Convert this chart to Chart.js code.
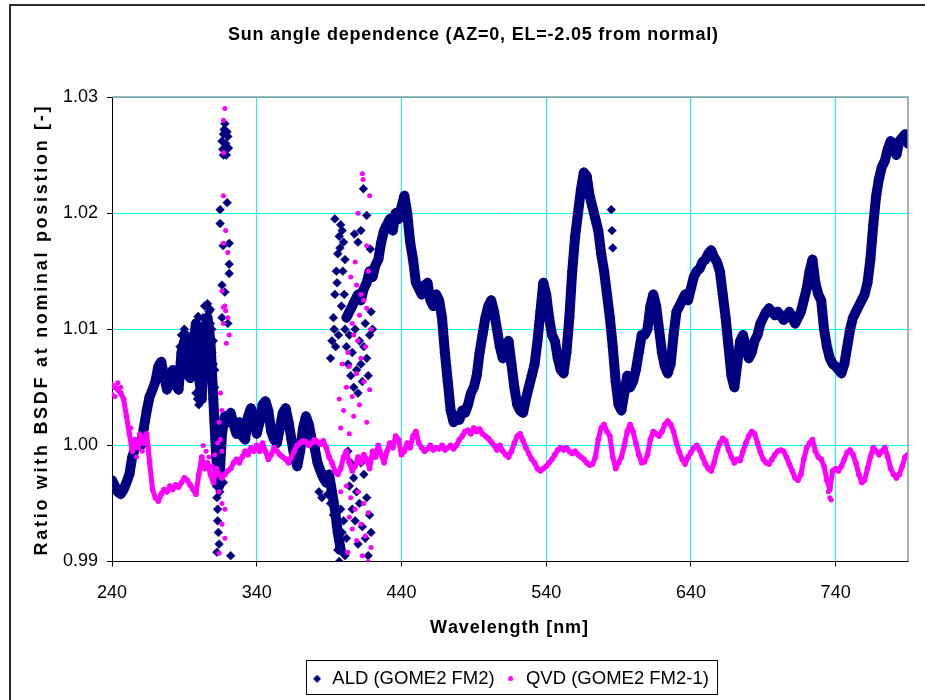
<!DOCTYPE html>
<html>
<head>
<meta charset="utf-8">
<title>Sun angle dependence</title>
<script src="https://cdn.jsdelivr.net/npm/chart.js@4.4.1/dist/chart.umd.min.js"></script>
<style>
  html, body { margin: 0; padding: 0; background: #fff; }
  #wrap { width: 925px; height: 700px; }
</style>
</head>
<body>
<div id="wrap"><canvas id="sunAngleChart" width="925" height="700"></canvas></div>
<script>
// wavelength grid shared by the two main traces [nm]
const wavelengths = [
  240,242,244,246,248,250,252,254,256,258,260,262,264,266,268,270,272,274,276,278,
  280,282,284,286,288,290,292,294,296,298,300,302,304,306,308,310,312,314,316,318,
  320,322,324,326,328,330,332,334,336,338,340,342,344,346,348,350,352,354,356,358,
  360,362,364,366,368,370,372,374,376,378,380,382,384,386,388,390,392,394,396,398,
  400,402,404,406,408,410,412,414,416,418,420,422,424,426,428,430,432,434,436,438,
  440,442,444,446,448,450,452,454,456,458,460,462,464,466,468,470,472,474,476,478,
  480,482,484,486,488,490,492,494,496,498,500,502,504,506,508,510,512,514,516,518,
  520,522,524,526,528,530,532,534,536,538,540,542,544,546,548,550,552,554,556,558,
  560,562,564,566,568,570,572,574,576,578,580,582,584,586,588,590,592,594,596,598,
  600,602,604,606,608,610,612,614,616,618,620,622,624,626,628,630,632,634,636,638,
  640,642,644,646,648,650,652,654,656,658,660,662,664,666,668,670,672,674,676,678,
  680,682,684,686,688,690,692,694,696,698,700,702,704,706,708,710,712,714,716,718,
  720,722,724,726,728,730,732,734,736,738,740,742,744,746,748,750,752,754,756,758,
  760,762,764,766,768,770,772,774,776,778,780,782,784,786,788,790
];

// ALD (GOME2 FM2) ratio on the grid above (null = branch break at 400 nm)
const aldRatio = [
  0.9970,0.9965,0.9960,0.9958,0.9962,0.9968,0.9975,0.9990,0.9998,1.0002,1.0000,1.0015,1.0030,1.0042,1.0048,1.0055,1.0068,1.0072,1.0060,1.0048,
  1.0058,1.0065,1.0052,1.0048,1.0080,1.0090,1.0070,1.0058,1.0085,1.0105,1.0060,1.0040,1.0100,1.0110,1.0090,1.0040,0.9990,0.9965,1.0010,1.0025,
  1.0020,1.0028,1.0018,1.0010,1.0020,1.0008,1.0005,1.0025,1.0032,1.0022,1.0010,1.0020,1.0035,1.0038,1.0030,1.0012,1.0005,1.0002,1.0015,1.0028,
  1.0032,1.0020,1.0005,0.9990,0.9982,0.9995,1.0015,1.0025,1.0018,1.0005,0.9998,0.9985,0.9978,0.9972,0.9968,0.9975,0.9960,0.9945,0.9925,0.9910,
  null,1.0110,1.0115,1.0120,1.0125,1.0130,1.0125,1.0135,1.0140,1.0150,1.0145,1.0155,1.0160,1.0175,1.0185,1.0190,1.0195,1.0185,1.0200,1.0195,
  1.0205,1.0215,1.0200,1.0175,1.0160,1.0140,1.0135,1.0130,1.0138,1.0140,1.0125,1.0120,1.0130,1.0125,1.0110,1.0080,1.0055,1.0030,1.0020,1.0025,
  1.0022,1.0030,1.0028,1.0035,1.0045,1.0050,1.0060,1.0080,1.0095,1.0110,1.0120,1.0125,1.0115,1.0100,1.0085,1.0075,1.0085,1.0090,1.0070,1.0050,
  1.0035,1.0030,1.0028,1.0040,1.0050,1.0060,1.0070,1.0090,1.0115,1.0140,1.0130,1.0110,1.0095,1.0090,1.0075,1.0065,1.0062,1.0080,1.0110,1.0150,
  1.0180,1.0200,1.0220,1.0235,1.0232,1.0215,1.0205,1.0195,1.0185,1.0165,1.0150,1.0130,1.0110,1.0085,1.0055,1.0035,1.0030,1.0045,1.0060,1.0050,
  1.0055,1.0065,1.0080,1.0095,1.0095,1.0100,1.0120,1.0130,1.0120,1.0100,1.0080,1.0068,1.0062,1.0070,1.0095,1.0115,1.0120,1.0125,1.0130,1.0125,
  1.0135,1.0145,1.0150,1.0152,1.0158,1.0160,1.0165,1.0168,1.0162,1.0158,1.0150,1.0130,1.0110,1.0085,1.0060,1.0050,1.0070,1.0090,1.0095,1.0085,
  1.0075,1.0080,1.0090,1.0095,1.0105,1.0110,1.0115,1.0118,1.0115,1.0112,1.0115,1.0112,1.0108,1.0110,1.0115,1.0110,1.0105,1.0110,1.0115,1.0125,
  1.0135,1.0150,1.0160,1.0140,1.0130,1.0125,1.0100,1.0085,1.0075,1.0070,1.0068,1.0065,1.0062,1.0070,1.0085,1.0100,1.0110,1.0115,1.0120,1.0125,
  1.0130,1.0140,1.0160,1.0190,1.0215,1.0230,1.0240,1.0245,1.0255,1.0262,1.0258,1.0250,1.0262,1.0265,1.0268,1.0260
];

// QVD (GOME2 FM2-1) ratio on the grid above
const qvdRatio = [
  1.0052,1.0050,1.0048,1.0045,1.0040,1.0025,1.0010,0.9995,1.0005,0.9998,1.0008,1.0002,1.0010,0.9985,0.9962,0.9955,0.9952,0.9958,0.9962,0.9960,
  0.9965,0.9962,0.9966,0.9964,0.9968,0.9972,0.9970,0.9966,0.9962,0.9958,0.9975,0.9990,0.9980,0.9985,0.9975,0.9968,0.9980,0.9975,0.9972,0.9975,
  0.9978,0.9980,0.9985,0.9988,0.9985,0.9990,0.9995,0.9992,0.9998,0.9995,1.0000,0.9995,1.0002,0.9995,0.9988,0.9992,0.9998,0.9995,0.9992,0.9990,
  0.9988,0.9985,0.9990,0.9995,1.0000,1.0002,1.0004,1.0003,1.0000,1.0002,1.0005,1.0003,1.0001,1.0004,0.9998,0.9990,0.9985,0.9978,0.9975,0.9980,
  0.9990,0.9995,0.9985,0.9978,0.9982,0.9990,0.9985,0.9992,0.9988,0.9980,0.9995,0.9990,1.0000,0.9992,0.9985,0.9995,1.0002,0.9998,1.0008,1.0005,
  0.9992,0.9995,1.0002,0.9998,1.0008,1.0012,1.0002,0.9998,0.9995,0.9997,1.0000,0.9996,0.9998,0.9997,1.0000,0.9996,0.9998,1.0000,0.9997,1.0000,
  1.0005,1.0008,1.0012,1.0013,1.0010,1.0015,1.0012,1.0014,1.0010,1.0008,1.0006,1.0003,1.0000,0.9996,1.0000,0.9995,0.9992,0.9990,0.9995,1.0002,
  1.0008,1.0010,1.0004,0.9998,0.9993,0.9988,0.9985,0.9980,0.9978,0.9980,0.9982,0.9985,0.9988,0.9992,0.9996,0.9998,0.9996,0.9998,0.9995,0.9993,
  0.9995,0.9992,0.9990,0.9988,0.9985,0.9983,0.9984,0.9990,1.0005,1.0015,1.0018,1.0012,1.0008,0.9990,0.9980,0.9985,0.9990,1.0000,1.0012,1.0018,
  1.0012,1.0002,0.9992,0.9985,0.9986,0.9992,1.0005,1.0012,1.0010,1.0008,1.0012,1.0018,1.0021,1.0018,1.0012,1.0002,0.9994,0.9988,0.9984,0.9990,
  0.9994,0.9998,1.0000,0.9996,0.9990,0.9984,0.9980,0.9978,0.9985,0.9995,1.0002,1.0006,1.0004,0.9996,0.9990,0.9985,0.9988,0.9987,0.9995,1.0002,
  1.0008,1.0012,1.0010,1.0002,0.9994,0.9988,0.9985,0.9984,0.9988,0.9992,0.9995,0.9996,0.9995,0.9990,0.9984,0.9978,0.9972,0.9970,0.9975,0.9988,
  0.9998,1.0002,1.0005,0.9995,0.9990,0.9988,0.9982,0.9970,0.9962,0.9978,0.9980,0.9978,0.9982,0.9988,0.9994,0.9996,0.9992,0.9985,0.9975,0.9968,
  0.9970,0.9980,0.9990,0.9998,0.9995,0.9992,0.9995,0.9998,0.9990,0.9980,0.9975,0.9972,0.9975,0.9982,0.9990,0.9992
];

// extra ALD readings where the measurement scatters [nm, ratio]
const aldSpread = [
  [287,1.0060],[287,1.0085],[288,1.0095],[289,1.0070],[290,1.0100],[291,1.0085],[292,1.0095],[293,1.0065],
  [294,1.0075],[295,1.0065],[296,1.0095],[297,1.0060],[298,1.0085],[298,1.0045],[299,1.0100],[299,1.0040],
  [300,1.0110],[300,1.0075],[301,1.0045],[301,1.0065],[302,1.0080],[302,1.0100],[303,1.0090],[303,1.0110],
  [304,1.0075],[304,1.0120],[305,1.0105],[305,1.0070],[306,1.0090],[306,1.0122],[307,1.0080],[307,1.0100],
  [308,1.0075],[308,1.0105],[309,1.0080],[309,1.0060],[310,1.0070],[310,1.0090],[311,1.0050],[311,1.0065],
  [288,1.0065],[289,1.0095],[290,1.0075],[291,1.0060],[292,1.0085],[296,1.0070],[297,1.0095],[299,1.0080],
  [300,1.0035],[301,1.0090],[302,1.0055],[303,1.0070],[305,1.0085],[307,1.0115],[309,1.0100],
  [310.5,1.0020],[311,1.0005],[311.5,0.9990],[311,1.0030],
  [312,0.9965],[312.5,0.9955],[313,0.9945],[313,0.9935],[313.5,0.9925],[314,0.9915],[312.5,0.9908],
  [322,0.9905],[315,0.9995],[316,0.9975],[317,0.9968],[314.5,0.9960],
  [316,1.0262],[316.5,1.0255],[317,1.0268],[317.5,1.0272],[318,1.0277],[318.5,1.0260],[319,1.0250],
  [319.5,1.0270],[320,1.0266],[320.5,1.0256],[317,1.0250],
  [314.7,1.0203],[319.6,1.0209],[314.7,1.0191],[321,1.0174],[316.8,1.0172],[321,1.0156],[321,1.0148],
  [316,1.0138],[318,1.0132],[316,1.0110],[308,1.0117],[299.5,1.0111],[320,1.0105],
  [383,0.9960],[385,0.9955],[387,0.9975],[389,0.9958],[391,0.9950],[393,0.9940],[395,0.9930],
  [391,1.0075],[392,1.0090],[393,1.0110],[394,1.0130],[395,1.0150],[396,1.0165],[397,1.0180],[398,1.0190],
  [399,1.0185],[400,1.0175],[401,1.0160],[393.5,1.0100],[394.5,1.0085],[395.5,1.0140],[396.5,1.0095],
  [397.5,1.0170],[398.5,1.0120],[399.5,1.0150],[400.5,1.0130],[394,1.0195],
  [401,1.0100],[402,1.0085],[403,1.0070],[404,1.0095],[405,1.0060],[406,1.0080],[407,1.0050],[408,1.0100],
  [409,1.0065],[410,1.0045],[411,1.0090],[412,1.0070],[413,1.0055],[414,1.0085],[415,1.0105],[416,1.0075],
  [417,1.0060],[418,1.0095],[419,1.0115],[420,1.0100],
  [413.7,1.0221],[416,1.0198],[412,1.0185],[407.5,1.0182],[410,1.0175],[418.5,1.0169],
  [396,0.9910],[397,0.9900],[398,0.9945],[399,0.9925],[400,0.9935],[401,0.9905],[402,0.9920],[403,0.9995],
  [404,0.9965],[405,0.9985],[406,0.9945],[407,0.9972],[408,0.9935],[409,0.9960],[410,0.9915],[411,0.9950],
  [412,0.9985],[413,0.9930],[414,0.9975],[415,0.9920],[416,0.9955],[417,0.9905],[418,0.9940],[419,0.9925],
  [585,1.0203],[585.5,1.0185],[586,1.0170]
];

// extra QVD readings where the measurement scatters [nm, ratio]
const qvdSpread = [
  [240,1.0044],[242,1.0042],[244,1.0054],[246,1.0050],[253,1.0015],[255,1.0000],[257,0.9990],[259,1.0010],
  [261,0.9995],[263,1.0005],[265,0.9998],
  [303,1.0000],[305,0.9995],[307,0.9990],[309,0.9982],[311,0.9992],[313,1.0002],
  [318,1.0290],[317,1.0280],[317,1.0252],[317,1.0215],[318.5,1.0185],[317,1.0174],[320,1.0166],[316,1.0133],
  [317,1.0119],[318.5,1.0116],[317,1.0105],[318,1.0120],[320,1.0110],[321,1.0095],[319,1.0088],[315,1.0045],
  [316,1.0030],[314,1.0020],[315,1.0005],[316,0.9995],[314,0.9960],[316,0.9950],[318,0.9945],[316,0.9932],
  [318,0.9920],[314,0.9907],
  [413,1.0234],[413.5,1.0229],[418,1.0215],[410,1.0200],[416,1.0172],[408,1.0158],[417,1.0150],[405,1.0145],
  [409,1.0138],[412,1.0130],[414,1.0125],[416,1.0118],[411,1.0112],[406,1.0105],[419,1.0100],[407,1.0095],
  [410,1.0090],[415,1.0085],[403,1.0080],[412,1.0075],[404,1.0068],[409,1.0062],[414,1.0055],[402,1.0050],
  [418,1.0048],[406,1.0042],[411,1.0035],[400,1.0030],[407,1.0025],[416,1.0020],[398,1.0015],[404,1.0010],
  [402,0.9965],[410,0.9960],[405,0.9955],[414,0.9950],[408,0.9945],[417,0.9942],[404,0.9938],[412,0.9932],
  [406,0.9928],[415,0.9922],[409,0.9918],[419,0.9912],[403,0.9908],[413,0.9905],[417,0.9900],
  [399,1.0070],[397,1.0040],[398,0.9960],
  [588,0.9980],[736,0.9955],[737,0.9953],[735,0.9960]
];

const xTickValues = [240, 340, 440, 540, 640, 740];
const seriesNames = ['ALD (GOME2 FM2)', 'QVD (GOME2 FM2-1)'];
const chartTitle = 'Sun angle dependence (AZ=0, EL=-2.05 from normal)';
const xTitle = 'Wavelength [nm]';
const yTitle = 'Ratio with BSDF at nominal posistion [-]';

const ALD_COLOR = '#000080';
const QVD_COLOR = '#FF00FF';
const FONT = '"Liberation Sans", Arial, sans-serif';

function mainPoints(ratio) {
  return wavelengths.map(function(w, i) { return {x: w, y: ratio[i]}; });
}
function spreadPoints(spread) {
  return spread.map(function(p) { return {x: p[0], y: p[1]}; });
}

// small marker images for the legend (diamond is bigger than the dot)
function makeMark(shape, color, size) {
  const c = document.createElement('canvas');
  c.width = size; c.height = size;
  const g = c.getContext('2d');
  g.fillStyle = color;
  g.beginPath();
  if (shape === 'diamond') {
    g.moveTo(size / 2, 0); g.lineTo(size, size / 2); g.lineTo(size / 2, size); g.lineTo(0, size / 2);
    g.closePath();
  } else {
    g.arc(size / 2, size / 2, size / 2, 0, Math.PI * 2);
  }
  g.fill();
  return c;
}
const legendMarks = [makeMark('diamond', ALD_COLOR, 8), makeMark('dot', QVD_COLOR, 5)];

// text stretched to the width it has in the original (Excel spacing)
function spacedText(ctx, text, cx, cy, width) {
  const chars = text.split('');
  const widths = chars.map(function(ch) { return ctx.measureText(ch).width; });
  const natural = widths.reduce(function(a, b) { return a + b; }, 0);
  const gap = (width - natural) / (chars.length - 1);
  let x = cx - width / 2;
  ctx.textAlign = 'left';
  ctx.textBaseline = 'middle';
  chars.forEach(function(ch, i) {
    ctx.fillText(ch, x, cy);
    x += widths[i] + gap;
  });
}

const framePlugin = {
  id: 'frame',
  beforeDraw: function(chart) {
    const ctx = chart.ctx;
    ctx.save();
    ctx.fillStyle = '#fff';
    ctx.fillRect(0, 0, chart.width, chart.height);
    ctx.restore();
  },
  afterLayout: function(chart) {
    const lg = chart.legend;
    lg.left = chart.chartArea.left;
    lg.right = chart.chartArea.right;
    lg.width = lg.right - lg.left;
  },
  afterDraw: function(chart) {
    const ctx = chart.ctx;
    const a = chart.chartArea;
    ctx.save();
    // outer chart frame
    ctx.strokeStyle = '#2b2b2b';
    ctx.lineWidth = 2;
    ctx.beginPath();
    ctx.moveTo(10, chart.height); ctx.lineTo(10, 5); ctx.lineTo(chart.width, 5);
    ctx.stroke();

    // grey plot-area border (top / right)
    ctx.strokeStyle = '#8a9a9a';
    ctx.lineWidth = 1.5;
    ctx.beginPath();
    ctx.moveTo(a.left, a.top); ctx.lineTo(a.right, a.top); ctx.lineTo(a.right, a.bottom);
    ctx.stroke();

    // titles
    ctx.fillStyle = '#000';
    ctx.font = 'bold 18px ' + FONT;
    spacedText(ctx, chartTitle, 473, 35, 490);
    spacedText(ctx, xTitle, 509, 628, 158);
    ctx.save();
    ctx.translate(42, 331);
    ctx.rotate(-Math.PI / 2);
    spacedText(ctx, yTitle, 0, 0, 449);
    ctx.restore();

    // box round the legend
    const hb = chart.legend.legendHitBoxes;
    if (hb && hb.length) {
      const first = hb[0], last = hb[hb.length - 1];
      const left = Math.round(first.left - 5) + 0.5;
      const right = Math.round(last.left + last.width + 8) + 0.5;
      const top = Math.round(first.top - 10) + 0.5;
      const bottom = Math.round(first.top + 24) + 0.5;
      ctx.strokeStyle = '#000';
      ctx.lineWidth = 1;
      ctx.strokeRect(left, top, right - left, bottom - top);
    }
    ctx.restore();
  }
};

Chart.defaults.font.family = FONT;
Chart.defaults.color = '#000';

const ctx = document.getElementById('sunAngleChart').getContext('2d');
new Chart(ctx, {
  type: 'scatter',
  data: {
    datasets: [{
      label: seriesNames[0],
      data: mainPoints(aldRatio),
      showLine: true,
      spanGaps: false,
      borderWidth: 10,
      borderJoinStyle: 'round',
      borderCapStyle: 'round',
      pointStyle: 'rectRot',
      pointRadius: 5,
      pointBorderWidth: 0.5,
      backgroundColor: ALD_COLOR,
      borderColor: ALD_COLOR,
      order: 3
    }, {
      label: seriesNames[1],
      data: mainPoints(qvdRatio),
      showLine: true,
      borderWidth: 5,
      borderJoinStyle: 'round',
      borderCapStyle: 'round',
      pointStyle: 'circle',
      pointRadius: 2.8,
      pointBorderWidth: 0,
      backgroundColor: QVD_COLOR,
      borderColor: QVD_COLOR,
      order: 1
    }, {
      label: 'ALD spread',
      data: spreadPoints(aldSpread),
      pointStyle: 'rectRot',
      pointRadius: 4.4,
      pointBorderWidth: 0.5,
      backgroundColor: ALD_COLOR,
      borderColor: ALD_COLOR,
      order: 2
    }, {
      label: 'QVD spread',
      data: spreadPoints(qvdSpread),
      pointStyle: 'circle',
      pointRadius: 2.5,
      pointBorderWidth: 0,
      backgroundColor: QVD_COLOR,
      borderColor: QVD_COLOR,
      order: 0
    }]
  },
  options: {
    responsive: false,
    animation: false,
    events: [],
    layout: { padding: { left: 0, right: 17, top: 97, bottom: 2 } },
    scales: {
      x: {
        type: 'linear',
        min: 240,
        max: 790,
        afterBuildTicks: function(axis) {
          axis.ticks = xTickValues.map(function(v) { return {value: v}; });
        },
        afterFit: function(scale) { scale.height = 98; },
        grid: { color: '#00FFFF', lineWidth: 1, tickLength: 5, tickColor: '#000' },
        border: { color: '#000', width: 1 },
        ticks: { font: { size: 18 }, padding: 16, maxRotation: 0 },
        title: { display: false }
      },
      y: {
        min: 0.99,
        max: 1.03,
        afterFit: function(scale) { scale.width = 112; },
        grid: { color: '#00FFFF', lineWidth: 1, tickLength: 5, tickColor: '#000' },
        border: { color: '#000', width: 1 },
        ticks: {
          stepSize: 0.01,
          font: { size: 18 },
          padding: 9,
          callback: function(v) { return v.toFixed(2); }
        },
        title: { display: false }
      }
    },
    plugins: {
      title: { display: false },
      legend: {
        position: 'bottom',
        labels: {
          usePointStyle: true,
          boxWidth: 12,
          boxHeight: 12,
          padding: 10,
          font: { size: 18.5 },
          filter: function(item) { return item.datasetIndex < 2; },
          sort: function(a, b) { return a.datasetIndex - b.datasetIndex; },
          generateLabels: function(chart) {
            const items = Chart.defaults.plugins.legend.labels.generateLabels(chart);
            items.forEach(function(item) {
              if (item.datasetIndex < 2) item.pointStyle = legendMarks[item.datasetIndex];
            });
            return items;
          }
        }
      },
      tooltip: { enabled: false }
    }
  },
  plugins: [framePlugin]
});
</script>
</body>
</html>
